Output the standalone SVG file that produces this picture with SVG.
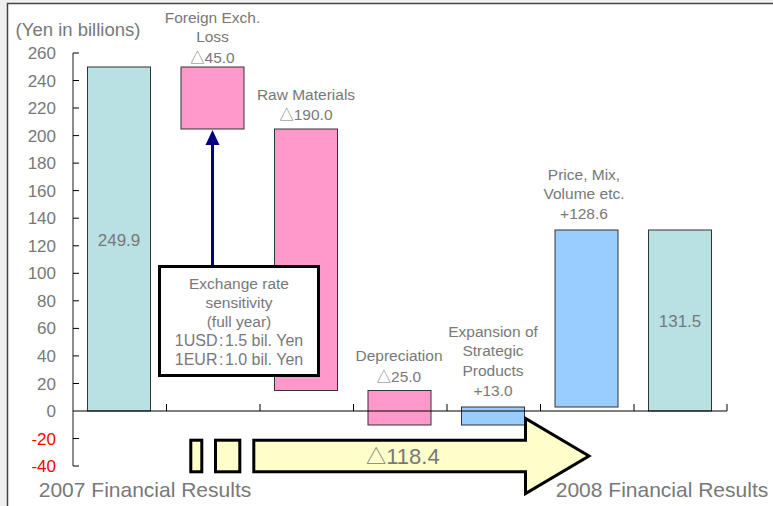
<svg xmlns="http://www.w3.org/2000/svg" width="773" height="506" viewBox="0 0 773 506">
<defs>
<style>
.t{font-family:"Liberation Sans",Arial,sans-serif;fill:#787878;text-anchor:middle}
.lab{font-size:15.5px}
.ax{font-size:17px;text-anchor:end}
.red{fill:#ff0000}
.tri{font-family:"Noto Sans CJK JP","DejaVu Sans",sans-serif;font-size:0.92em}
.bar{stroke:#333;stroke-width:1}
.teal{fill:#b9e0e3}
.pink{fill:#ff99cc}
.blue{fill:#99ccff}
.yel{fill:#ffffcc;stroke:#000;stroke-width:3;stroke-linejoin:miter}
.tick{stroke:#000;stroke-width:1}
</style>
</defs>
<rect x="0" y="0" width="773" height="506" fill="#f0f0f0"/>
<rect x="7.5" y="3.5" width="800" height="600" fill="#fff" stroke="#444" stroke-width="1.5"/>

<g id="axes">
<line x1="73" y1="53" x2="73" y2="466" stroke="#666" stroke-width="1.5"/>
<g class="tick">
<line x1="73" y1="53" x2="79" y2="53"/>
<line x1="73" y1="80.5" x2="79" y2="80.5"/>
<line x1="73" y1="108" x2="79" y2="108"/>
<line x1="73" y1="135.6" x2="79" y2="135.6"/>
<line x1="73" y1="163.1" x2="79" y2="163.1"/>
<line x1="73" y1="190.6" x2="79" y2="190.6"/>
<line x1="73" y1="218.2" x2="79" y2="218.2"/>
<line x1="73" y1="245.8" x2="79" y2="245.8"/>
<line x1="73" y1="273.3" x2="79" y2="273.3"/>
<line x1="73" y1="300.8" x2="79" y2="300.8"/>
<line x1="73" y1="328.4" x2="79" y2="328.4"/>
<line x1="73" y1="355.9" x2="79" y2="355.9"/>
<line x1="73" y1="383.5" x2="79" y2="383.5"/>
<line x1="73" y1="438.5" x2="79" y2="438.5"/>
<line x1="73" y1="466" x2="79" y2="466"/>
<line x1="166.5" y1="404" x2="166.5" y2="411"/>
<line x1="260" y1="404" x2="260" y2="411"/>
<line x1="353.5" y1="404" x2="353.5" y2="411"/>
<line x1="447" y1="404" x2="447" y2="411"/>
<line x1="540.5" y1="404" x2="540.5" y2="411"/>
<line x1="634" y1="404" x2="634" y2="411"/>
<line x1="727" y1="404" x2="727" y2="411"/>
</g>
<g class="t ax">
<text x="56" y="59">260</text>
<text x="56" y="86.5">240</text>
<text x="56" y="114">220</text>
<text x="56" y="141.6">200</text>
<text x="56" y="169.1">180</text>
<text x="56" y="196.6">160</text>
<text x="56" y="224.2">140</text>
<text x="56" y="251.8">120</text>
<text x="56" y="279.3">100</text>
<text x="56" y="306.8">80</text>
<text x="56" y="334.4">60</text>
<text x="56" y="361.9">40</text>
<text x="56" y="389.5">20</text>
<text x="56" y="417">0</text>
<text x="56" y="444.5" class="red">-20</text>
<text x="56" y="472" class="red">-40</text>
</g>
<text class="t" x="78" y="36" style="font-size:18.5px">(Yen in billions)</text>
</g>

<g id="bar-2007">
<rect class="bar teal" x="87.5" y="67" width="63" height="344"/>
<text class="t" x="119" y="246" style="font-size:17px">249.9</text>
</g>
<g id="bar-fx">
<rect class="bar pink" x="181" y="67" width="63" height="62"/>
<text class="t lab" x="212.5" y="22.5">Foreign Exch.</text>
<text class="t lab" x="212.5" y="42">Loss</text>
<text class="t lab" x="212.5" y="62.5"><tspan class="tri">△</tspan>45.0</text>
</g>
<g id="bar-raw">
<rect class="bar pink" x="274.5" y="129" width="63" height="261.5"/>
<text class="t lab" x="306" y="100">Raw Materials</text>
<text class="t lab" x="306" y="119.5"><tspan class="tri">△</tspan>190.0</text>
</g>
<g id="bar-dep">
<rect class="bar pink" x="368" y="390.5" width="63" height="34.5"/>
<text class="t lab" x="399" y="361">Depreciation</text>
<text class="t lab" x="399" y="381.5"><tspan class="tri">△</tspan>25.0</text>
</g>
<g id="bar-exp">
<rect class="bar blue" x="461.5" y="407" width="63" height="18"/>
<text class="t lab" x="493" y="336.5">Expansion of</text>
<text class="t lab" x="493" y="356">Strategic</text>
<text class="t lab" x="493" y="376">Products</text>
<text class="t lab" x="493" y="396">+13.0</text>
</g>
<g id="bar-price">
<rect class="bar blue" x="555" y="230" width="63" height="177"/>
<text class="t lab" x="584" y="179.5">Price, Mix,</text>
<text class="t lab" x="584" y="199">Volume etc.</text>
<text class="t lab" x="584" y="219">+128.6</text>
</g>
<g id="bar-2008">
<rect class="bar teal" x="648.5" y="230" width="63" height="181"/>
<text class="t" x="680" y="327" style="font-size:17px">131.5</text>
</g>
<line x1="73" y1="411" x2="727" y2="411" stroke="#000" stroke-width="1.2"/>

<g id="connectors">
<line x1="212.5" y1="266" x2="212.5" y2="142" stroke="#000080" stroke-width="3"/>
<polygon points="212.5,130 205.5,145 219.5,145" fill="#000080"/>
</g>

<g id="sensitivity-box">
<rect x="159.5" y="266.5" width="159" height="109" fill="#fff" stroke="#000" stroke-width="3"/>
<text class="t lab" x="239" y="289">Exchange rate</text>
<text class="t lab" x="239" y="308">sensitivity</text>
<text class="t lab" x="239" y="327">(full year)</text>
<text class="t lab" x="239" y="346" style="font-size:16px">1USD<tspan dx="1.5">:</tspan><tspan dx="1.5">1.5 bil. Yen</tspan></text>
<text class="t lab" x="239" y="365" style="font-size:16px">1EUR<tspan dx="1.5">:</tspan><tspan dx="1.5">1.0 bil. Yen</tspan></text>
</g>

<g id="total-arrow">
<rect class="yel" x="190.8" y="440.2" width="11" height="31.6"/>
<rect class="yel" x="215.5" y="440.2" width="24.3" height="31.6"/>
<path class="yel" d="M253.8,440.2 H525.5 V418.5 L589,456 L525.5,493.5 V471.8 H253.8 Z"/>
<text class="t" x="366" y="464" style="font-size:22px;text-anchor:start"><tspan class="tri">△</tspan>118.4</text>
</g>

<g id="x-labels">
<text class="t" x="145" y="497" style="font-size:21px">2007 Financial Results</text>
<text class="t" x="662" y="497" style="font-size:21px">2008 Financial Results</text>
</g>
</svg>
